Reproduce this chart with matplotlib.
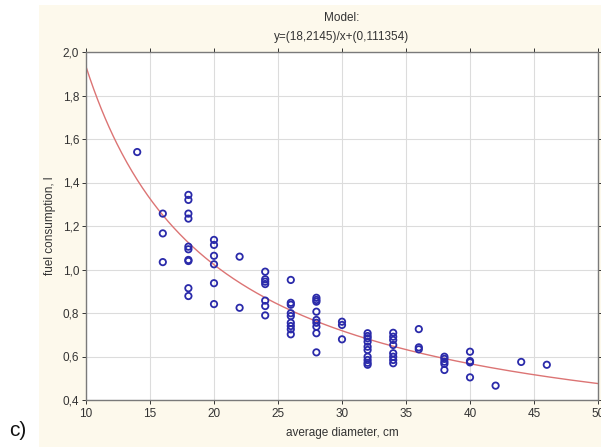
import matplotlib
matplotlib.use("Agg")
import matplotlib.pyplot as plt
import numpy as np
from matplotlib.patches import Rectangle

plt.rcParams['font.family'] = ['Liberation Sans', 'DejaVu Sans']

# Observed data: average diameter (cm) -> fuel consumption (l)
diam_14 = [14]
fuel_14 = [1.54]
diam_16 = [16, 16, 16]
fuel_16 = [1.257, 1.166, 1.034]
diam_18 = [18] * 10
fuel_18 = [1.343, 1.320, 1.257, 1.234, 1.105, 1.093, 1.044, 1.039, 0.914, 0.878]
diam_20 = [20] * 6
fuel_20 = [1.136, 1.113, 1.063, 1.024, 0.937, 0.841]
diam_22 = [22] * 2
fuel_22 = [1.059, 0.824]
diam_24 = [24] * 7
fuel_24 = [0.990, 0.955, 0.944, 0.933, 0.857, 0.832, 0.789]
diam_26 = [26] * 9
fuel_26 = [0.952, 0.847, 0.838, 0.799, 0.786, 0.755, 0.740, 0.725, 0.702]
diam_28 = [28] * 9
fuel_28 = [0.870, 0.860, 0.852, 0.806, 0.768, 0.755, 0.737, 0.707, 0.619]
diam_30 = [30] * 3
fuel_30 = [0.760, 0.745, 0.679]
diam_32 = [32] * 10
fuel_32 = [0.707, 0.694, 0.684, 0.668, 0.645, 0.630, 0.599, 0.584, 0.571, 0.562]
diam_34 = [34] * 8
fuel_34 = [0.709, 0.691, 0.676, 0.653, 0.615, 0.599, 0.584, 0.569]
diam_36 = [36] * 3
fuel_36 = [0.726, 0.642, 0.633]
diam_38 = [38] * 5
fuel_38 = [0.599, 0.589, 0.576, 0.566, 0.538]
diam_40 = [40] * 4
fuel_40 = [0.622, 0.579, 0.573, 0.504]
diam_42 = [42]
fuel_42 = [0.466]
diam_44 = [44]
fuel_44 = [0.575]
diam_46 = [46]
fuel_46 = [0.562]

# Model parameters y = a/x + b
model_a = 18.2145
model_b = 0.111354

x_ticks = [10, 15, 20, 25, 30, 35, 40, 45, 50]
x_ticklabels = ["10", "15", "20", "25", "30", "35", "40", "45", "50"]
y_ticks = [0.4, 0.6, 0.8, 1.0, 1.2, 1.4, 1.6, 1.8, 2.0]
y_ticklabels = ["0,4", "0,6", "0,8", "1,0", "1,2", "1,4", "1,6", "1,8", "2,0"]

diam = np.concatenate([diam_14, diam_16, diam_18, diam_20, diam_22, diam_24, diam_26,
                       diam_28, diam_30, diam_32, diam_34, diam_36, diam_38, diam_40,
                       diam_42, diam_44, diam_46])
fuel = np.concatenate([fuel_14, fuel_16, fuel_18, fuel_20, fuel_22, fuel_24, fuel_26,
                       fuel_28, fuel_30, fuel_32, fuel_34, fuel_36, fuel_38, fuel_40,
                       fuel_42, fuel_44, fuel_46])

W, H = 601, 447
fig = plt.figure(figsize=(W / 100, H / 100), dpi=100)
fig.patch.set_facecolor('white')

# beige panel
fig.patches.append(Rectangle((39 / W, 0), 1 - 39 / W, (H - 5) / H,
                             transform=fig.transFigure, facecolor='#fdf9ec',
                             edgecolor='none', zorder=-10))

ax = fig.add_axes([86 / W, 1 - 400 / H, (598 - 86) / W, (400 - 52) / H])
ax.set_zorder(1)
ax.set_facecolor('white')

xs = np.linspace(10, 50, 400)
ax.plot(xs, model_a / xs + model_b, color='#dc7474', lw=1.0, zorder=2, clip_on=True)
ax.scatter(diam, fuel, s=21, facecolors='none', edgecolors='#2a2aaa', linewidths=1.3, zorder=3)

ax.set_xlim(10, 50)
ax.set_ylim(0.4, 2.0)
ax.set_xticks(x_ticks)
ax.set_xticklabels(x_ticklabels)
ax.set_yticks(y_ticks)
ax.set_yticklabels(y_ticklabels)
ax.grid(True, color='#dcdcdc', lw=0.8)
ax.set_axisbelow(True)
for s in ax.spines.values():
    s.set_color('#7a7a7a')
    s.set_linewidth(1.0)
ax.tick_params(axis='both', labelsize=8.5, colors='#333333', length=3, width=0.7,
               direction='out', pad=2)
ax.tick_params(axis='x', pad=3)
ax.tick_params(top=True, right=True, which='both')

fig.text(342 / W, 1 - 18 / H, "Model:", ha='center', va='center', fontsize=8.5, color='#333333')
fig.text(342 / W, 1 - 37 / H, "y=(18,2145)/x+(0,111354)", ha='center', va='center',
         fontsize=8.5, color='#333333')
fig.text(342 / W, 1 - 433 / H, "average diameter, cm", ha='center', va='center',
         fontsize=8.5, color='#333333')
fig.text(50 / W, 1 - 226 / H, "fuel consumption, l", ha='center', va='center',
         rotation=90, fontsize=8.5, color='#333333')
fig.text(9 / W, 1 - 430 / H, "c)", ha='left', va='center', fontsize=15, color='#111111')

fig.savefig("out.png", dpi=100)
